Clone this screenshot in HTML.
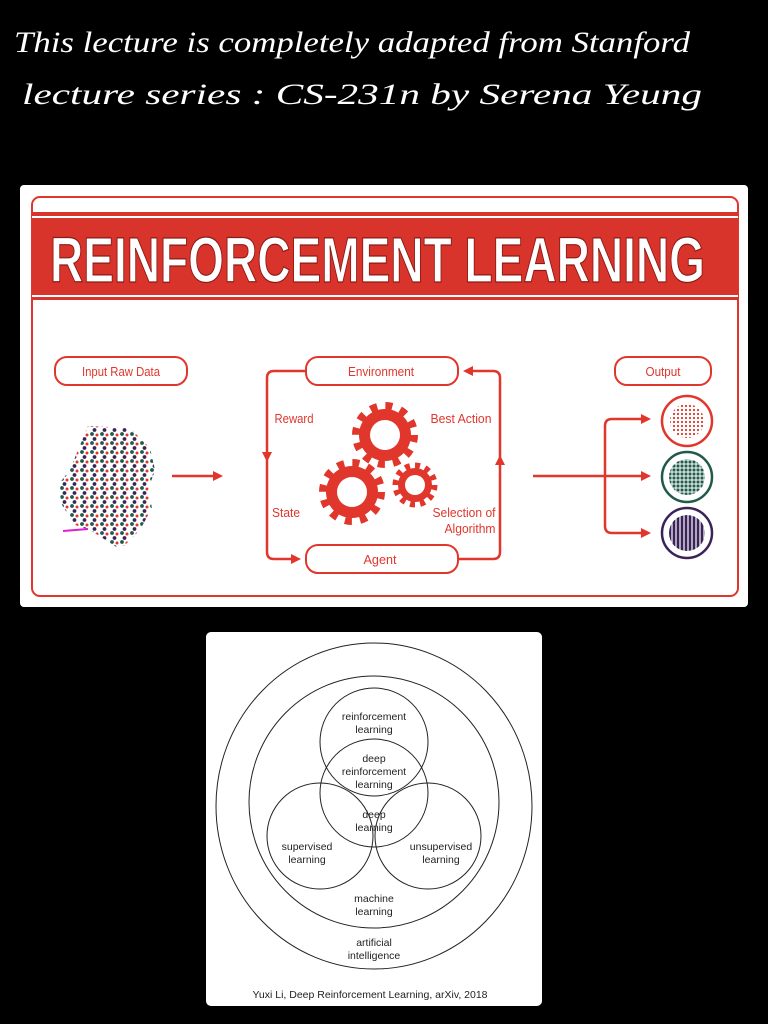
<!DOCTYPE html>
<html><head><meta charset="utf-8"><style>
html,body{margin:0;padding:0;background:#000;}
body{width:768px;height:1024px;overflow:hidden;position:relative;}
svg{position:absolute;left:0;top:0;}
</style></head><body>
<svg width="768" height="1024" viewBox="0 0 768 1024" xmlns="http://www.w3.org/2000/svg">
<defs>
<pattern id="dots" width="10" height="9" patternUnits="userSpaceOnUse">
<circle cx="2" cy="2" r="1.9" fill="#1f5a4a"/>
<circle cx="7" cy="3" r="1.5" fill="#e0362c"/>
<circle cx="4.5" cy="7" r="1.9" fill="#3a2358"/>
</pattern>
<pattern id="pr" width="4" height="4" patternUnits="userSpaceOnUse"><circle cx="2" cy="2" r="1.1" fill="#e0362c"/></pattern>
<pattern id="pg" width="4" height="4" patternUnits="userSpaceOnUse"><rect x="0.5" y="0.5" width="3" height="3" fill="#1f5a4a"/></pattern>
<pattern id="pp" width="4" height="4" patternUnits="userSpaceOnUse"><rect x="0.6" y="0" width="2.8" height="4" fill="#3a2358"/></pattern>
<marker id="ah" markerWidth="10" markerHeight="10" refX="7" refY="5" orient="auto" markerUnits="userSpaceOnUse"><path d="M0,0 L10,5 L0,10 Z" fill="#e0362c"/></marker>
</defs>
<g fill="#fff" font-family="'Liberation Serif',serif" font-style="italic" font-size="30">
<text x="14" y="52" textLength="676" lengthAdjust="spacingAndGlyphs">This lecture  is  completely  adapted  from   Stanford</text>
<text x="22" y="104" textLength="680" lengthAdjust="spacingAndGlyphs">lecture series :   CS-231n   by   Serena Yeung</text>
</g>
<rect x="20" y="185" width="728" height="422" rx="4" fill="#fff"/>
<rect x="32" y="197" width="706" height="399" rx="8" fill="none" stroke="#e0362c" stroke-width="2"/>
<rect x="32" y="212" width="706" height="88" fill="#d9342b"/>
<line x1="32" y1="217" x2="738" y2="217" stroke="#fff" stroke-width="2"/>
<line x1="32" y1="296" x2="738" y2="296" stroke="#fff" stroke-width="2"/>
<text x="50" y="282" fill="#fff" stroke="#8a1a14" stroke-width="1.2" font-family="'Liberation Sans Narrow','Liberation Sans',sans-serif" font-weight="bold" font-size="64" textLength="655" lengthAdjust="spacingAndGlyphs">REINFORCEMENT LEARNING</text>
<g fill="#fff" stroke="#e0362c" stroke-width="2">
<rect x="55" y="357" width="132" height="28" rx="12"/>
<rect x="306" y="357" width="152" height="28" rx="12"/>
<rect x="615" y="357" width="96" height="28" rx="12"/>
<rect x="306" y="545" width="152" height="28" rx="12"/>
</g>
<g fill="#e0362c" font-family="'Liberation Sans Narrow','Liberation Sans',sans-serif" font-size="13" text-anchor="middle">
<text x="121" y="376" textLength="78" lengthAdjust="spacingAndGlyphs">Input Raw Data</text>
<text x="381" y="376" textLength="66" lengthAdjust="spacingAndGlyphs">Environment</text>
<text x="663" y="376" textLength="35" lengthAdjust="spacingAndGlyphs">Output</text>
<text x="380" y="564" textLength="33" lengthAdjust="spacingAndGlyphs">Agent</text>
<text x="294" y="423" textLength="39" lengthAdjust="spacingAndGlyphs">Reward</text>
<text x="461" y="423" textLength="61" lengthAdjust="spacingAndGlyphs">Best Action</text>
<text x="286" y="517" textLength="28" lengthAdjust="spacingAndGlyphs">State</text>
<text x="464" y="517" textLength="63" lengthAdjust="spacingAndGlyphs">Selection of</text>
<text x="470" y="533" textLength="51" lengthAdjust="spacingAndGlyphs">Algorithm</text>
</g>
<g fill="none" stroke="#e0362c" stroke-width="2.5">
<path d="M306,371 H274 Q267,371 267,378 V459" marker-end="url(#ah)"/>
<path d="M267,455 V552 Q267,559 274,559 H298" marker-end="url(#ah)"/>
<path d="M458,559 H493 Q500,559 500,552 V458" marker-end="url(#ah)"/>
<path d="M500,462 V378 Q500,371 493,371 H466" marker-end="url(#ah)"/>
<path d="M172,476 H220" marker-end="url(#ah)"/>
<path d="M533,476 H648" marker-end="url(#ah)"/>
<path d="M648,419 H612 Q605,419 605,426 V526 Q605,533 612,533 H648"/>
<path d="M640,419 H648" marker-end="url(#ah)"/>
<path d="M640,533 H648" marker-end="url(#ah)"/>
</g>
<g fill="#e0362c">
<circle cx="385" cy="435" r="26"/>
<circle cx="385" cy="435" r="29" fill="none" stroke="#e0362c" stroke-width="8" stroke-dasharray="7 8.2"/>
<circle cx="352" cy="492" r="26"/>
<circle cx="352" cy="492" r="29" fill="none" stroke="#e0362c" stroke-width="8" stroke-dasharray="7 8.2"/>
<circle cx="415" cy="485" r="17"/>
<circle cx="415" cy="485" r="19.5" fill="none" stroke="#e0362c" stroke-width="6" stroke-dasharray="5 5.2"/>
</g>
<g fill="#fff"><circle cx="385" cy="435" r="15"/><circle cx="352" cy="492" r="15"/><circle cx="415" cy="485" r="10"/></g>
<polygon points="88,426 130,428 150,448 155,470 148,490 152,508 140,530 125,545 118,548 90,530 75,525 62,505 58,485 70,470 78,450" fill="url(#dots)"/>
<line x1="63" y1="531" x2="88" y2="529" stroke="#e020d0" stroke-width="2"/>
<g stroke-width="2.5">
<circle cx="687" cy="421" r="25" fill="#fff" stroke="#e0362c"/>
<circle cx="687" cy="421" r="17" fill="url(#pr)"/>
<circle cx="687" cy="477" r="25" fill="#fff" stroke="#1f5a4a"/>
<circle cx="687" cy="477" r="18" fill="url(#pg)"/>
<circle cx="687" cy="533" r="25" fill="#fff" stroke="#3a2358"/>
<circle cx="687" cy="533" r="18" fill="url(#pp)"/>
</g>
<rect x="206" y="632" width="336" height="374" rx="5" fill="#fff"/>
<g fill="none" stroke="#222" stroke-width="1">
<ellipse cx="374" cy="806" rx="158" ry="163"/>
<ellipse cx="374" cy="802" rx="125" ry="126"/>
<circle cx="374" cy="742" r="54"/>
<circle cx="374" cy="793" r="54"/>
<circle cx="320" cy="836" r="53"/>
<circle cx="428" cy="836" r="53"/>
</g>
<g fill="#222" font-family="'Liberation Sans',sans-serif" font-size="10.5" text-anchor="middle">
<text x="374" y="720">reinforcement</text><text x="374" y="733">learning</text>
<text x="374" y="762">deep</text><text x="374" y="775">reinforcement</text><text x="374" y="788">learning</text>
<text x="374" y="818">deep</text><text x="374" y="831">learning</text>
<text x="307" y="850">supervised</text><text x="307" y="863">learning</text>
<text x="441" y="850">unsupervised</text><text x="441" y="863">learning</text>
<text x="374" y="902">machine</text><text x="374" y="915">learning</text>
<text x="374" y="946">artificial</text><text x="374" y="959">intelligence</text>
<text x="370" y="998">Yuxi Li, Deep Reinforcement Learning, arXiv, 2018</text>
</g>
</svg>
</body></html>
